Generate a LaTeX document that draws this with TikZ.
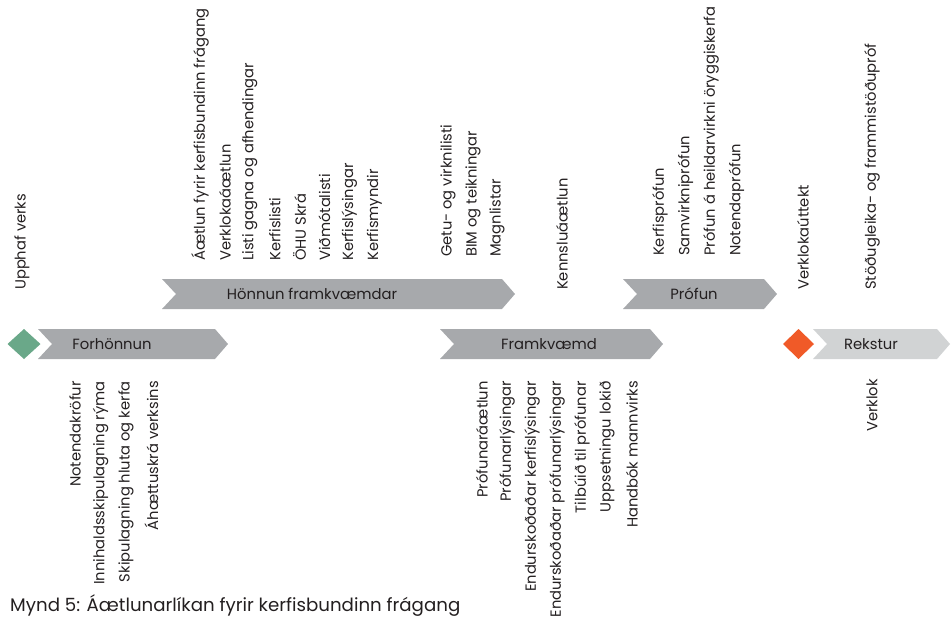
\documentclass[tikz,border=0pt]{standalone}
\usepackage{fontspec}
\setmainfont{Poppins}
\definecolor{phasegray}{HTML}{A7A9AC}
\definecolor{lightphase}{HTML}{D1D3D4}
\definecolor{startgreen}{HTML}{6AA889}
\definecolor{endorange}{HTML}{F05A28}
\definecolor{ink}{HTML}{231F20}
% chevron: left x, tip x, top y, bottom y, fill colour
\newcommand{\phasechevron}[5]{%
  \fill[#5] (#1,#3) -- ({#2-13},#3) -- (#2,{(#3+#4)/2}) -- ({#2-13},#4)
    -- (#1,#4) -- ({#1+14},{(#3+#4)/2}) -- cycle;}
\begin{document}
\begin{tikzpicture}[x=1pt,y=-1pt,
  every node/.style={text=ink,inner sep=0pt},
  phaselabel/.style={font=\fontsize{14.8}{17}\selectfont},
  uplabel/.style={rotate=90,anchor=west,font=\fontsize{14.7}{17}\selectfont},
  downlabel/.style={rotate=90,anchor=east,font=\fontsize{14.7}{17}\selectfont},
  caption/.style={anchor=base west,font=\fontsize{18.2}{21}\selectfont}]
\useasboundingbox (0,0) rectangle (952,616);

% milestones
\fill[startgreen] (7.5,344) -- (24,329) -- (40.5,344) -- (24,359) -- cycle;
\fill[endorange] (783,344) -- (798.5,329) -- (814,344) -- (798.5,359) -- cycle;
\coordinate (start) at (24,344);
\coordinate (finish) at (798.5,344);

% phases
\phasechevron{38}{228}{329}{359}{phasegray}
\phasechevron{162}{515}{279}{309}{phasegray}
\phasechevron{440}{663}{329}{359}{phasegray}
\phasechevron{623}{777}{279}{309}{phasegray}
\phasechevron{813}{950}{329}{359}{lightphase}

\node[phaselabel] (forh) at (112,344) {Forhönnun};
\node[phaselabel] (honn) at (312,294) {Hönnun framkvæmdar};
\node[phaselabel] (frkv) at (549,344) {Framkvæmd};
\node[phaselabel] (prof) at (694,294) {Prófun};
\node[phaselabel] (rekst) at (871,344) {Rekstur};

% deliverables above the phases
\node[uplabel] (u1) at (22,290) {Upphaf verks};
\node[uplabel] (h1) at (200,261) {Áætlun fyrir kerfisbundinn frágang};
\node[uplabel] (h2) at (224.9,261) {Verklokaáætlun};
\node[uplabel] (h3) at (249.8,261) {Listi gagna og afhendingar};
\node[uplabel] (h4) at (274.7,261) {Kerfislisti};
\node[uplabel] (h5) at (299.6,261) {ÖHU Skrá};
\node[uplabel] (h6) at (324.5,261) {Viðmótalisti};
\node[uplabel] (h7) at (349.4,261) {Kerfislýsingar};
\node[uplabel] (h8) at (374.3,261) {Kerfismyndir};
\node[uplabel] (g1) at (448,257) {Getu- og virknilisti};
\node[uplabel] (g2) at (473,257) {BIM og teikningar};
\node[uplabel] (g3) at (497,257) {Magnlistar};
\node[uplabel] (k1) at (562,290) {Kennsluáætlun};
\node[uplabel] (p1) at (660,256) {Kerfisprófun};
\node[uplabel] (p2) at (685.5,256) {Samvirkniprófun};
\node[uplabel] (p3) at (711,256) {Prófun á heildarvirkni öryggiskerfa};
\node[uplabel] (p4) at (736.5,256) {Notendaprófun};
\node[uplabel] (v1) at (803,290) {Verklokaúttekt};
\node[uplabel] (s1) at (872,290) {Stöðugleika- og frammistöðupróf};

% deliverables below the phases
\node[downlabel] (f1) at (75,381) {Notendakröfur};
\node[downlabel] (f2) at (100.5,381) {Innihaldsskipulagning rýma};
\node[downlabel] (f3) at (126,381) {Skipulagning hluta og kerfa};
\node[downlabel] (f4) at (151.5,381) {Áhættuskrá verksins};
\node[downlabel] (e1) at (482,381) {Prófunaráætlun};
\node[downlabel] (e2) at (507,381) {Prófunarlýsingar};
\node[downlabel] (e3) at (532,381) {Endurskoðaðar kerfislýsingar};
\node[downlabel] (e4) at (557,381) {Endurskoðaðar prófunarlýsingar};
\node[downlabel] (e5) at (582,381) {Tilbúið til prófunar};
\node[downlabel] (e6) at (607,381) {Uppsetningu lokið};
\node[downlabel] (e7) at (632,381) {Handbók mannvirks};
\node[downlabel] (r1) at (872,379) {Verklok};

\node[caption] (cap) at (10,611) {Mynd 5: Áætlunarlíkan fyrir kerfisbundinn frágang};
\end{tikzpicture}
\end{document}
